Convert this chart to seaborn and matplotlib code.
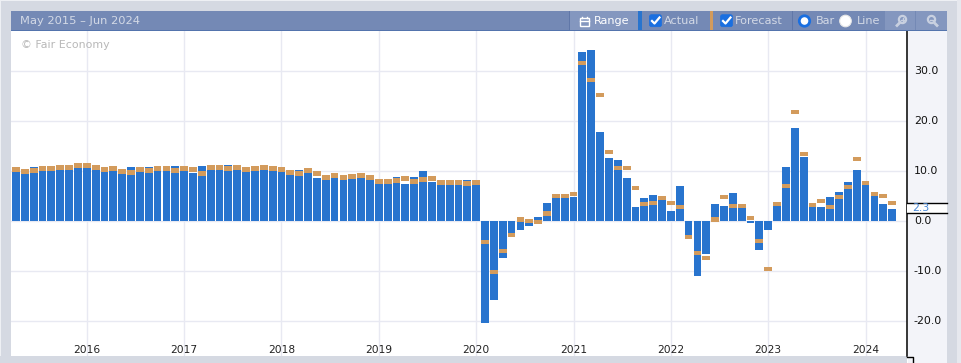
import pandas as pd
import matplotlib
matplotlib.use('Agg')
import matplotlib.pyplot as plt
from matplotlib.patches import Rectangle, Circle, FancyBboxPatch
from matplotlib.transforms import ScaledTranslation
import seaborn as sns

# one value per bar
actual = [10.0, 9.6, 10.8, 10.2, 11.0, 10.4, 11.2, 10.8, 10.8, 10.4,
          10.0, 10.2, 9.6, 10.8, 10.0, 10.8, 10.2, 10.2, 11.0, 11.0,
          9.6, 11.0, 10.4, 10.4, 11.2, 10.4, 10.0, 10.2, 10.4, 10.2,
          10.0, 9.6, 10.2, 9.8, 8.6, 9.2, 8.6, 9.2, 9.4, 8.6,
          8.2, 8.4, 8.4, 8.8, 7.4, 8.8, 10.0, 7.8, 7.2, 7.2,
          7.2, 8.2, 8.2, -20.5, -15.9, -7.5, -2.4, -1.9, -1.1, 0.7,
          3.5, 4.5, 4.5, 4.7, 33.7, 34.1, 17.7, 12.5, 12.1, 8.5,
          2.7, 4.5, 5.1, 4.1, 1.9, 6.9, -3.0, -11.1, -6.7, 3.3,
          2.9, 5.5, 2.5, -0.5, -5.9, -1.9, 2.9, 10.7, 18.5, 12.7,
          2.7, 2.7, 4.7, 5.7, 7.7, 10.1, 7.1, 4.9, 3.3, 2.3]
forecast = [10.2, 9.8, 10.0, 10.4, 10.4, 10.6, 10.6, 11.0, 11.0, 10.6,
            10.2, 10.4, 9.8, 9.6, 10.2, 10.0, 10.4, 10.4, 10.0, 10.4,
            10.2, 9.4, 10.6, 10.6, 10.4, 10.6, 10.2, 10.4, 10.6, 10.4,
            10.2, 9.6, 9.4, 10.0, 9.4, 8.6, 9.0, 8.6, 8.8, 9.0,
            8.6, 7.8, 7.8, 8.0, 8.4, 7.8, 8.2, 8.4, 7.6, 7.6,
            7.6, 7.4, 7.6, -4.3, -10.3, -6.1, -2.9, 0.2, -0.1, -0.3,
            1.4, 4.9, 4.9, 5.3, 31.5, 28.1, 25.1, 13.7, 10.5, 10.5,
            6.5, 3.3, 3.5, 4.5, 3.5, 2.7, -3.3, -6.5, -7.5, 0.2,
            4.7, 2.9, 2.9, 0.5, -4.1, -9.7, 3.3, 6.9, 21.7, 13.3,
            3.1, 3.9, 2.7, 4.7, 6.7, 12.3, 7.5, 5.3, 4.9, 3.5]
year_labels = ['2016', '2017', '2018', '2019', '2020', '2021', '2022', '2023', '2024']
year_bars = [8, 19, 30, 41, 52, 63, 74, 85, 96]
y_ticks = [-20, -10, 0, 10, 20, 30]

bar_blue = '#2874ce'
bar_orange = '#d39b5c'
page_grey = '#d5d9e2'
panel = '#f3f4f9'
header = '#7489b5'
header_light = '#8497bf'
head_text = '#d3d9e6'
grid_col = '#e8e9f2'

W, H = 961, 363
fig = plt.figure(figsize=(W / 100, H / 100), dpi=100, facecolor=page_grey)

ax = fig.add_axes([11 / W, 1 - 356 / H, 896 / W, 325 / H])
df = pd.DataFrame({'bar': range(len(actual)), 'actual': actual})
sns.barplot(data=df, x='bar', y='actual', color=bar_blue, saturation=1, width=0.88, ax=ax, zorder=3)
for i, f in enumerate(forecast):
    ax.bar(i, 0.9, bottom=f - 0.45, width=0.88, color=bar_orange, linewidth=0, zorder=4)

ax.set_xlim(-0.56, 100.68)
ax.set_ylim(-27.1, 37.9)
ax.yaxis.tick_right()
ax.set_yticks(y_ticks)
ax.set_yticklabels([f'{v:.1f}' for v in y_ticks], fontsize=7.9, color='#111111')
ax.set_xticks(year_bars)
ax.set_xticklabels(year_labels, fontsize=7.7, color='#222222')
ax.tick_params(axis='both', length=0)
ax.tick_params(axis='x', pad=-8)
ax.tick_params(axis='y', pad=5)
ax.grid(True, color=grid_col, linewidth=1)
ax.set_axisbelow(True)
ax.set_xlabel('')
ax.set_ylabel('')
for s in ['top', 'left', 'bottom']:
    ax.spines[s].set_visible(False)
ax.spines['right'].set_linewidth(1.1)
ax.spines['right'].set_color('black')
nudge = ScaledTranslation(0, 0.9 / 100, fig.dpi_scale_trans)
for label in ax.get_yticklabels():
    label.set_transform(label.get_transform() + nudge)

# chrome drawn in pixel coordinates of the page
ui = fig.add_axes([0, 0, 1, 1], facecolor='none', zorder=-1)
ui.set_xlim(0, W)
ui.set_ylim(H, 0)
ui.axis('off')
top = fig.add_axes([0, 0, 1, 1], facecolor='none', zorder=5)
top.set_xlim(0, W)
top.set_ylim(H, 0)
top.axis('off')


def box(a, x0, y0, x1, y1, c):
    a.add_patch(Rectangle((x0, y0), x1 - x0, y1 - y0, facecolor=c, edgecolor='none'))


box(ui, 0, 0, W, 1, '#eef0f4')
box(ui, 0, 0, 1, H, '#eef0f4')
box(ui, 957, 0, W, H, '#e6e8ee')
box(ui, 11, 11, 947, 363, 'white')
box(ui, 908, 31, 947, 363, panel)
box(ui, 0, 356, 907, 363, page_grey)

# header strip
box(top, 11, 11, 947, 30, header)
box(top, 11, 30, 947, 31, '#5474ad')
top.text(20, 21, 'May 2015 – Jun 2024', fontsize=8.25, color=head_text, va='center')
top.text(21, 44.5, '© Fair Economy', fontsize=7.9, color='#b8b8b8', va='center')

box(top, 570, 11, 638, 30, header_light)
box(top, 638, 11, 642, 30, bar_blue)
box(top, 710, 11, 713, 30, bar_orange)
box(top, 885, 11, 915, 30, header_light)
box(top, 916, 11, 947, 30, header_light)
box(top, 569, 11, 570, 30, '#6077a8')
box(top, 792, 11, 793, 30, '#6077a8')

# calendar icon + button labels
top.add_patch(Rectangle((579.5, 18), 9.5, 7.5, facecolor='none', edgecolor='white', linewidth=1))
top.plot([579.5, 589], [20.5, 20.5], color='white', lw=1)
top.plot([582, 582], [16.5, 18], color='white', lw=1)
top.plot([586.5, 586.5], [16.5, 18], color='white', lw=1)
top.text(594, 21, 'Range', fontsize=8.1, color='white', va='center')
for x0, name, tx in [(649.5, 'Actual', 664), (720.5, 'Forecast', 735)]:
    top.add_patch(FancyBboxPatch((x0, 14.7), 12, 12, boxstyle='round,pad=0,rounding_size=2',
                                 facecolor='#1a6fe0', edgecolor='#1a6fe0', linewidth=0.5))
    top.plot([x0 + 2.5, x0 + 5, x0 + 10], [21, 23.5, 17.5], color='white', lw=1.6)
    top.text(tx, 21, name, fontsize=8.1, color=head_text, va='center')

top.add_patch(Circle((804.5, 21), 5.2, facecolor='white', edgecolor='#1a6fe0', linewidth=2))
top.text(816, 21, 'Bar', fontsize=8.1, color=head_text, va='center')
top.add_patch(Circle((845.5, 21), 5.8, facecolor='white', edgecolor='#e8e8e8', linewidth=0.8))
top.text(857, 21, 'Line', fontsize=8.1, color=head_text, va='center')

# zoom icons
top.add_patch(Circle((902.5, 19.5), 3.6, facecolor='none', edgecolor='#c8d0e0', linewidth=1.6))
top.plot([900, 897], [22.5, 25.5], color='#c8d0e0', lw=2)
top.plot([901, 904], [19.5, 19.5], color='#c8d0e0', lw=1)
top.plot([902.5, 902.5], [18, 21], color='#c8d0e0', lw=1)
top.add_patch(Circle((931.5, 19.5), 3.6, facecolor='none', edgecolor='#c8d0e0', linewidth=1.6))
top.plot([934, 937], [22.5, 25.5], color='#c8d0e0', lw=2)
top.plot([930, 933], [19.5, 19.5], color='#c8d0e0', lw=1)

# current value flag on the axis
box(top, 906.5, 203, 947, 213, 'white')
top.plot([907, 947], [202.5, 202.5], color='black', lw=1)
top.plot([907, 947], [213.2, 213.2], color='black', lw=1)
top.text(912, 208, '2.3', fontsize=7.9, color='#4a8ad8', va='center')

# small notch under the axis
top.plot([907, 912.5, 912.5], [356.5, 356.5, 363], color='black', lw=1)

fig.savefig('out.png', dpi=100, facecolor=fig.get_facecolor())
